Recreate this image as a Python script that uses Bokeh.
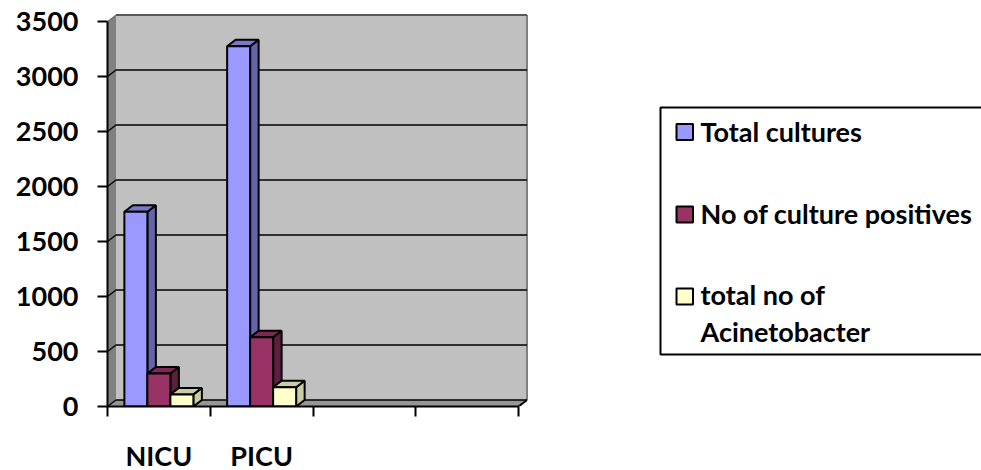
from bokeh.core.properties import value
from bokeh.embed import file_html
from bokeh.layouts import row
from bokeh.models import FixedTicker, Range1d
from bokeh.plotting import figure
from bokeh.resources import INLINE

# Chart data
categories = ["NICU", "PICU"]
series_names = ["Total cultures", "No of culture positives", "total no of\nAcinetobacter"]
total_cultures = [1770, 3275]
culture_positives = [300, 630]
total_acinetobacter = [110, 175]
y_ticks = [0, 500, 1000, 1500, 2000, 2500, 3000, 3500]
slots = 4

# Face colours of each series: front, top, side
face_colours = [
    ("#9999FF", "#7878C8", "#6464A8"),
    ("#993366", "#7A2952", "#5C1F3D"),
    ("#FFFFCC", "#CCCCA3", "#CCCCA3"),
]

FONT = value("Lato")
TICK_SIZE = "27px"
LEGEND_SIZE = "27px"

# Pixel scale of the plot frame
PX_PER_SLOT = 102.75
PX_PER_UNIT = 0.11
FRAME_W, FRAME_H = 543, 406
DX = 8.5 / PX_PER_SLOT
DY = 6.5 / PX_PER_UNIT
BAR_W = 23 / PX_PER_SLOT
TOP = y_ticks[-1]

p = figure(
    width=650, height=470, frame_width=FRAME_W, frame_height=FRAME_H,
    x_range=Range1d(0, FRAME_W / PX_PER_SLOT), y_range=Range1d(0, FRAME_H / PX_PER_UNIT),
    output_backend="svg", toolbar_location=None,
    min_border_left=107, min_border_right=0, min_border_top=0, min_border_bottom=64,
)
p.outline_line_color = None
p.grid.visible = False

# Walls and floor of the 3D box
p.patch([DX, slots + DX, slots + DX, DX], [DY, DY, TOP + DY, TOP + DY],
        fill_color="#C0C0C0", line_color=None)
p.patch([0, DX, DX, 0], [0, DY, TOP + DY, TOP], fill_color="#808080", line_color=None)
p.patch([0, slots, slots + DX, DX], [0, 0, DY, DY], fill_color="#969696", line_color=None)
p.line([slots + DX, slots + DX], [DY, TOP + DY], line_color="#808080", line_width=2)
p.line([DX, slots + DX], [TOP + DY, TOP + DY], line_color="#585858", line_width=2)
p.line([0, DX], [TOP, TOP + DY], line_color="#585858", line_width=1)

# Gridlines along the back wall, with their slant over the side wall
for tick in y_ticks[:-1]:
    p.line([0, DX, slots + DX], [tick, tick + DY, tick + DY], line_color="black", line_width=1.3)
p.line([slots, slots + DX], [0, DY], line_color="black", line_width=2)

# Bars, drawn left to right so that each front hides its neighbour's side
for c, _ in enumerate(categories):
    for s, values in enumerate([total_cultures, culture_positives, total_acinetobacter]):
        v = values[c]
        x0 = c + 0.5 - 1.5 * BAR_W + s * BAR_W
        x1 = x0 + BAR_W
        front, top, side = face_colours[s]
        p.patch([x1, x1 + DX, x1 + DX, x1], [0, DY, v + DY, v],
                fill_color=side, line_color="black", line_width=2)
        p.patch([x0, x1, x1 + DX, x0 + DX], [v, v, v + DY, v + DY],
                fill_color=top, line_color="black", line_width=2)
        p.patch([x0, x1, x1, x0], [0, 0, v, v],
                fill_color=front, line_color="black", line_width=2)

# Axes
xa, ya = p.xaxis[0], p.yaxis[0]
ya.ticker = FixedTicker(ticks=y_ticks)
ya.bounds = (y_ticks[0], TOP)
ya.major_tick_out = 10
ya.major_tick_in = 0
ya.minor_tick_line_color = None
ya.major_tick_line_width = 2
ya.major_tick_line_color = "black"
ya.axis_line_width = 2
ya.axis_line_color = "black"
ya.major_label_standoff = 19
ya.major_label_text_font = FONT.value
ya.major_label_text_font_size = TICK_SIZE
ya.major_label_text_font_style = "bold"
ya.major_label_text_color = "black"

xa.ticker = FixedTicker(ticks=[i + 0.5 for i in range(len(categories))],
                        minor_ticks=list(range(slots + 1)))
xa.major_label_overrides = {i + 0.5: name for i, name in enumerate(categories)}
xa.bounds = (0, slots)
xa.major_tick_line_color = None
xa.major_tick_out = 0
xa.major_tick_in = 0
xa.minor_tick_out = 10
xa.minor_tick_in = 0
xa.minor_tick_line_width = 2
xa.minor_tick_line_color = "black"
xa.axis_line_width = 2
xa.axis_line_color = "black"
xa.major_label_standoff = 22
xa.major_label_text_font = FONT.value
xa.major_label_text_font_size = TICK_SIZE
xa.major_label_text_font_style = "bold"
xa.major_label_text_color = "black"

# Legend panel, laid out in its own pixel coordinates
legend = figure(
    width=331, height=470, frame_width=331, frame_height=470,
    x_range=Range1d(650, 981), y_range=Range1d(470, 0),
    output_backend="svg", toolbar_location=None,
    min_border=0, x_axis_location=None, y_axis_location=None,
)
legend.outline_line_color = None
legend.grid.visible = False
legend.quad(left=[660], right=[1000], top=[107], bottom=[354],
            fill_color="white", line_color="black", line_width=2)
swatch_rows = [131.5, 214, 296]
legend.quad(left=[676] * 3, right=[692.5] * 3,
            top=[y - 8 for y in swatch_rows], bottom=[y + 8 for y in swatch_rows],
            fill_color=[c[0] for c in face_colours], line_color="black", line_width=2)
label_lines = [series_names[0], series_names[1]] + series_names[2].split("\n")
legend.text(x=[700] * 4, y=[130.5, 212.5, 294, 331], text=label_lines,
            text_font=FONT, text_font_size=LEGEND_SIZE, text_font_style="bold",
            text_color="black", text_baseline="middle", text_align="left")

layout = row(p, legend, spacing=0)
open("out.html", "w").write(file_html(layout, INLINE))
